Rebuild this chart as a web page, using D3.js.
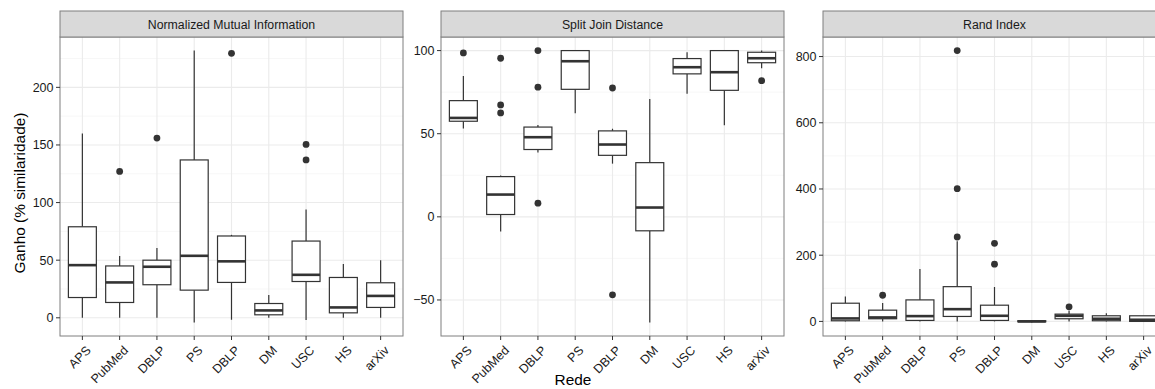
<!DOCTYPE html>
<html>
<head>
<meta charset="utf-8">
<script src="https://cdn.jsdelivr.net/npm/d3@7"></script>
<style>
  body { margin: 0; background: #fff; }
  svg { display: block; font-family: "Liberation Sans", Arial, sans-serif; }
</style>
</head>
<body>
<div class="chart"></div>
<script>
// networks on the x axis (DBLP appears twice)
const networks = ["APS", "PubMed", "DBLP", "PS", "DBLP", "DM", "USC", "HS", "arXiv"];
const metrics = ["Normalized Mutual Information", "Split Join Distance", "Rand Index"];

// box stats per network: [whisker low, q1, median, q3, whisker high]
const nmiStats = [
  [0, 17.6, 45.7, 79, 160], [0, 13.3, 30.7, 45, 53.6], [0, 28.7, 44.3, 50, 60.5],
  [-4, 24, 53.8, 137, 231.9], [-1.7, 30.7, 49, 71, 72], [0, 2.6, 6.4, 12.4, 19.7],
  [-2, 31.5, 37.3, 66.6, 94], [0, 4.3, 9, 35, 46.6], [0, 9, 19, 30.4, 50]
];
const nmiOutliers = [[], [127], [156], [], [229.5], [], [150.5, 137], [], []];

const sjdStats = [
  [53.1, 57.5, 59.5, 69.9, 84.7], [-8.8, 1.4, 13.4, 24.2, 24.8], [38.7, 40.5, 47.9, 54, 55.3],
  [62.3, 76.7, 93.6, 100, 100], [32, 37, 43.5, 51.7, 53], [-63.5, -8.4, 5.6, 32.6, 70.9],
  [74.1, 86, 90, 95.2, 99], [55.1, 76.1, 87, 100, 100], [89.4, 92.7, 95.4, 99, 100]
];
const sjdOutliers = [[98.6], [95.4, 67.3, 62.5], [100, 78, 8.2], [], [77.5, -46.9], [], [], [], [81.9]];

const riStats = [
  [0, 2, 9, 55, 75], [0, 8, 12, 34, 56], [0, 3, 16, 65, 158],
  [0, 15, 37, 105, 242], [0, 3, 17, 49, 104], [-3, -1, 0, 2, 4],
  [0, 8, 17, 22, 32], [0, 2, 8, 17, 25], [-2, 0, 5, 17, 17]
];
const riOutliers = [[], [79], [], [818, 401, 255], [236, 173], [], [44], [], []];

const nmiTicks = [0, 50, 100, 150, 200];
const sjdTicks = [-50, 0, 50, 100];
const riTicks = [0, 200, 400, 600, 800];

const panels = [
  { title: metrics[0], stats: nmiStats, outliers: nmiOutliers, ticks: nmiTicks },
  { title: metrics[1], stats: sjdStats, outliers: sjdOutliers, ticks: sjdTicks },
  { title: metrics[2], stats: riStats, outliers: riOutliers, ticks: riTicks }
];

const width = 1155, height = 389;
const panelX = [60, 441, 823];
const panelW = 343;
const stripTop = 11, panelTop = 37, panelBottom = 336;
const ink = "#333333";

const svg = d3.select(".chart").append("svg")
  .attr("width", width)
  .attr("height", height);

panels.forEach((p, i) => {
  const x0 = panelX[i];
  const g = svg.append("g").attr("transform", `translate(${x0},0)`);

  // ggplot discrete expansion: 0.6 of a step each side
  const x = d3.scalePoint()
    .domain(d3.range(networks.length))
    .range([0, panelW])
    .padding(0.6);
  const cx = j => x(j);
  const boxW = x.step() * 0.75;

  const allVals = p.stats.flat().concat(p.outliers.flat());
  const lo = d3.min(allVals), hi = d3.max(allVals);
  const pad = (hi - lo) * 0.05;
  const y = d3.scaleLinear()
    .domain([lo - pad, hi + pad])
    .range([panelBottom, panelTop]);

  // grid
  const tstep = p.ticks[1] - p.ticks[0];
  const minor = d3.range(p.ticks[0] - tstep / 2, hi + pad, tstep)
    .filter(v => v > lo - pad && v < hi + pad);
  g.append("g").selectAll("line")
    .data(minor).join("line")
    .attr("x1", 0).attr("x2", panelW)
    .attr("y1", d => y(d)).attr("y2", d => y(d))
    .attr("stroke", "#f2f2f2").attr("stroke-width", 0.6);
  g.append("g").selectAll("line")
    .data(p.ticks).join("line")
    .attr("x1", 0).attr("x2", panelW)
    .attr("y1", d => y(d)).attr("y2", d => y(d))
    .attr("stroke", "#ebebeb").attr("stroke-width", 1.1);
  g.append("g").selectAll("line")
    .data(networks).join("line")
    .attr("x1", (d, j) => cx(j)).attr("x2", (d, j) => cx(j))
    .attr("y1", panelTop).attr("y2", panelBottom)
    .attr("stroke", "#ebebeb").attr("stroke-width", 1.1);

  // whiskers + boxes
  const boxes = g.append("g").selectAll("g")
    .data(p.stats).join("g");
  boxes.append("line")
    .attr("x1", (d, j) => cx(j)).attr("x2", (d, j) => cx(j))
    .attr("y1", d => y(d[3])).attr("y2", d => y(d[4]))
    .attr("stroke", ink).attr("stroke-width", 1.2);
  boxes.append("line")
    .attr("x1", (d, j) => cx(j)).attr("x2", (d, j) => cx(j))
    .attr("y1", d => y(d[0])).attr("y2", d => y(d[1]))
    .attr("stroke", ink).attr("stroke-width", 1.2);
  boxes.append("rect")
    .attr("x", (d, j) => cx(j) - boxW / 2)
    .attr("width", boxW)
    .attr("y", d => y(d[3]))
    .attr("height", d => Math.max(0.5, y(d[1]) - y(d[3])))
    .attr("fill", "#fff")
    .attr("stroke", ink).attr("stroke-width", 1.2);
  boxes.append("line")
    .attr("x1", (d, j) => cx(j) - boxW / 2).attr("x2", (d, j) => cx(j) + boxW / 2)
    .attr("y1", d => y(d[2])).attr("y2", d => y(d[2]))
    .attr("stroke", ink).attr("stroke-width", 2.6);

  // outliers
  const pts = p.outliers.flatMap((arr, j) => arr.map(v => ({ j, v })));
  g.append("g").selectAll("circle")
    .data(pts).join("circle")
    .attr("cx", d => cx(d.j)).attr("cy", d => y(d.v))
    .attr("r", 3.4)
    .attr("fill", ink);

  // panel border
  g.append("rect")
    .attr("x", 0).attr("y", panelTop)
    .attr("width", panelW).attr("height", panelBottom - panelTop)
    .attr("fill", "none").attr("stroke", "#7f7f7f").attr("stroke-width", 1);

  // strip
  g.append("rect")
    .attr("x", 0).attr("y", stripTop)
    .attr("width", panelW).attr("height", panelTop - stripTop)
    .attr("fill", "#d9d9d9").attr("stroke", "#7f7f7f").attr("stroke-width", 1);
  g.append("text")
    .attr("x", panelW / 2).attr("y", 28.5)
    .attr("text-anchor", "middle")
    .attr("font-size", 12.3)
    .attr("fill", "#1a1a1a")
    .text(p.title);

  // y axis
  const ya = g.append("g").selectAll("g")
    .data(p.ticks).join("g")
    .attr("transform", d => `translate(0,${y(d)})`);
  ya.append("line").attr("x1", -4).attr("x2", 0)
    .attr("stroke", ink).attr("stroke-width", 1);
  ya.append("text")
    .attr("x", -6.5).attr("dy", "0.35em")
    .attr("text-anchor", "end")
    .attr("font-size", 12.5)
    .attr("fill", "#1a1a1a")
    .text(d => d < 0 ? "\u2212" + Math.abs(d) : d);

  // x axis
  const xa = g.append("g").selectAll("g")
    .data(networks).join("g")
    .attr("transform", (d, j) => `translate(${cx(j)},${panelBottom})`);
  xa.append("line").attr("y1", 0).attr("y2", 4)
    .attr("stroke", ink).attr("stroke-width", 1);
  xa.append("text")
    .attr("transform", "translate(3,9) rotate(-45)")
    .attr("text-anchor", "end")
    .attr("dy", "0.7em")
    .attr("font-size", 12.5)
    .attr("fill", "#1a1a1a")
    .text(d => d);
});

// axis titles
svg.append("text")
  .attr("x", 573).attr("y", 385)
  .attr("text-anchor", "middle")
  .attr("font-size", 15.4)
  .attr("fill", "#000")
  .text("Rede");

svg.append("text")
  .attr("transform", "translate(25,193) rotate(-90)")
  .attr("text-anchor", "middle")
  .attr("font-size", 15.4)
  .attr("fill", "#000")
  .text("Ganho (% similaridade)");
</script>
</body>
</html>
